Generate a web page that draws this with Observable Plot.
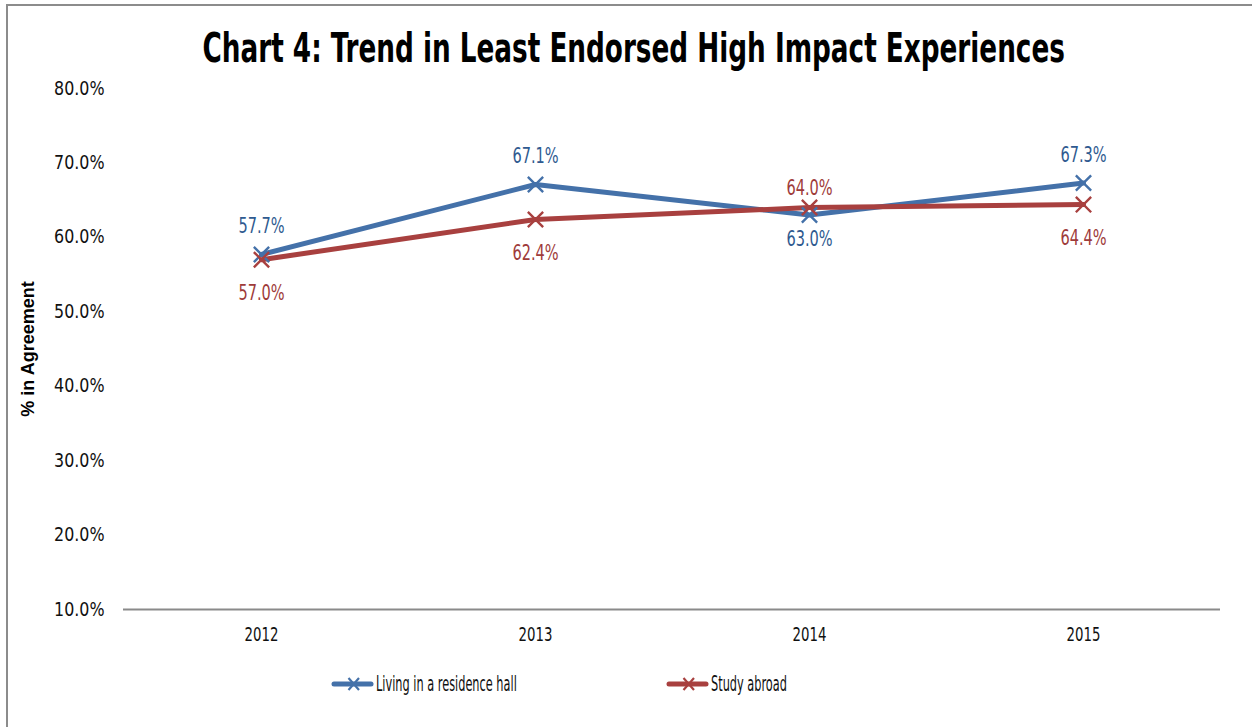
<!DOCTYPE html>
<html>
<head>
<meta charset="utf-8">
<script src="https://cdn.jsdelivr.net/npm/d3@7"></script>
<script src="https://cdn.jsdelivr.net/npm/@observablehq/plot@0.6"></script>
<style>
  html, body { margin: 0; padding: 0; background: #fff; }
  body { width: 1252px; height: 727px; overflow: hidden; position: relative;
         font-family: "DejaVu Sans Condensed", "DejaVu Sans", sans-serif; }
  #frame { position: absolute; left: 6px; top: 4px; width: 1270px; height: 760px; border: 2px solid #8c8c8c; box-sizing: border-box; pointer-events: none; }
  #title { height: 78px; box-sizing: border-box; padding-top: 27px; text-align: center; color: #000; }
  #title span { display: inline-block; font-weight: bold; font-size: 40px; line-height: 42px; transform: scaleX(0.73); transform-origin: center; white-space: nowrap; margin-left: 16px; }
  #chart svg { display: block; }
  #legend { position: relative; height: 69px; }
  .item { position: absolute; top: 14px; display: flex; align-items: center; color: #111; white-space: nowrap; }
  .item svg { display: block; margin-right: 2px; }
  .item span { display: inline-block; font-size: 21px; transform: scaleX(0.6); transform-origin: left center; }
</style>
</head>
<body>
<div id="frame"></div>
<div id="title"><span>Chart 4: Trend in Least Endorsed High Impact Experiences</span></div>
<div id="chart"></div>
<div id="legend"></div>
<script>
const years = ["2012", "2013", "2014", "2015"];
const residenceHall = [57.7, 67.1, 63.0, 67.3];
const studyAbroad = [57.0, 62.4, 64.0, 64.4];
const seriesNames = ["Living in a residence hall", "Study abroad"];
const seriesColors = ["#4471a9", "#a8403f"];
const labelColors = ["#2f5a90", "#9e3b3a"];
const yTicks = [10, 20, 30, 40, 50, 60, 70, 80];
const residenceLabelPos = ["above", "above", "below", "above"];
const abroadLabelPos = ["below", "below", "above", "below"];

const rows = [];
years.forEach((y, i) => rows.push({year: y, value: residenceHall[i], series: seriesNames[0], pos: residenceLabelPos[i]}));
years.forEach((y, i) => rows.push({year: y, value: studyAbroad[i], series: seriesNames[1], pos: abroadLabelPos[i]}));

const fmt = d => d.toFixed(1) + "%";
const labelOffsets = {
  [seriesNames[0] + "above"]: -28, [seriesNames[0] + "below"]: 24,
  [seriesNames[1] + "above"]: -19, [seriesNames[1] + "below"]: 34
};
const textMarks = [];
seriesNames.forEach((s, si) => {
  ["above", "below"].forEach(p => {
    textMarks.push(Plot.text(rows.filter(r => r.series === s && r.pos === p), {
      x: "year", y: "value", text: d => fmt(d.value),
      dy: labelOffsets[s + p], fill: labelColors[si], fontSize: 21, className: "vlabel"
    }));
  });
});

const chart = Plot.plot({
  width: 1252, height: 580,
  marginTop: 10, marginLeft: 123, marginRight: 32, marginBottom: 49,
  style: {fontFamily: '"DejaVu Sans Condensed", "DejaVu Sans", sans-serif', fontSize: "20px", color: "#111", background: "transparent"},
  x: {type: "point", domain: years, padding: 0.5},
  y: {domain: [10, 80]},
  color: {domain: seriesNames, range: seriesColors},
  marks: [
    Plot.axisY({ticks: yTicks, tickSize: 0, tickPadding: 19, tickFormat: fmt, fontSize: 19,
      label: "% in Agreement", labelAnchor: "center", labelOffset: 102, labelArrow: "none"}),
    Plot.axisX({tickSize: 0, tickPadding: 17, fontSize: 20, label: null}),
    Plot.ruleY([10], {stroke: "#8a8a8a", strokeWidth: 2}),
    Plot.line(rows, {x: "year", y: "value", z: "series", stroke: "series", strokeWidth: 5, strokeLinejoin: "round"}),
    Plot.dot(rows, {x: "year", y: "value", symbol: "times", stroke: "series", r: 7, strokeWidth: 2.4}),
    ...textMarks
  ]
});
document.getElementById("chart").appendChild(chart);

// horizontally condense text to mimic a condensed typeface
function squeeze(el, s) {
  const x = +el.getAttribute("x") || 0;
  const t = el.getAttribute("transform") || "";
  el.setAttribute("transform", `${t} translate(${x},0) scale(${s},1) translate(${-x},0)`);
}
chart.querySelectorAll("g[aria-label='y-axis tick label'] text").forEach(t => squeeze(t, 0.93));
chart.querySelectorAll("g[aria-label='x-axis tick label'] text").forEach(t => squeeze(t, 0.74));
chart.querySelectorAll("g.vlabel text").forEach(t => squeeze(t, 0.77));
chart.querySelectorAll("g[aria-label='y-axis label'] text").forEach(t => {
  t.style.fontWeight = "bold"; t.style.fontSize = "18px";
  t.style.fontFamily = '"Liberation Sans", Arial, sans-serif'; t.style.fill = "#000";
});

const legend = document.getElementById("legend");
const legendLeft = [331, 666];
seriesNames.forEach((s, i) => {
  const item = document.createElement("div");
  item.className = "item";
  item.style.left = legendLeft[i] + "px";
  item.innerHTML = `<svg width="43" height="18"><line x1="3" y1="9" x2="40" y2="9" stroke="${seriesColors[i]}" stroke-width="5" stroke-linecap="round"/><path d="M17.5,3L28,15M17.5,15L28,3" stroke="${seriesColors[i]}" stroke-width="2.2"/></svg><span>${s}</span>`;
  legend.appendChild(item);
});
</script>
</body>
</html>
